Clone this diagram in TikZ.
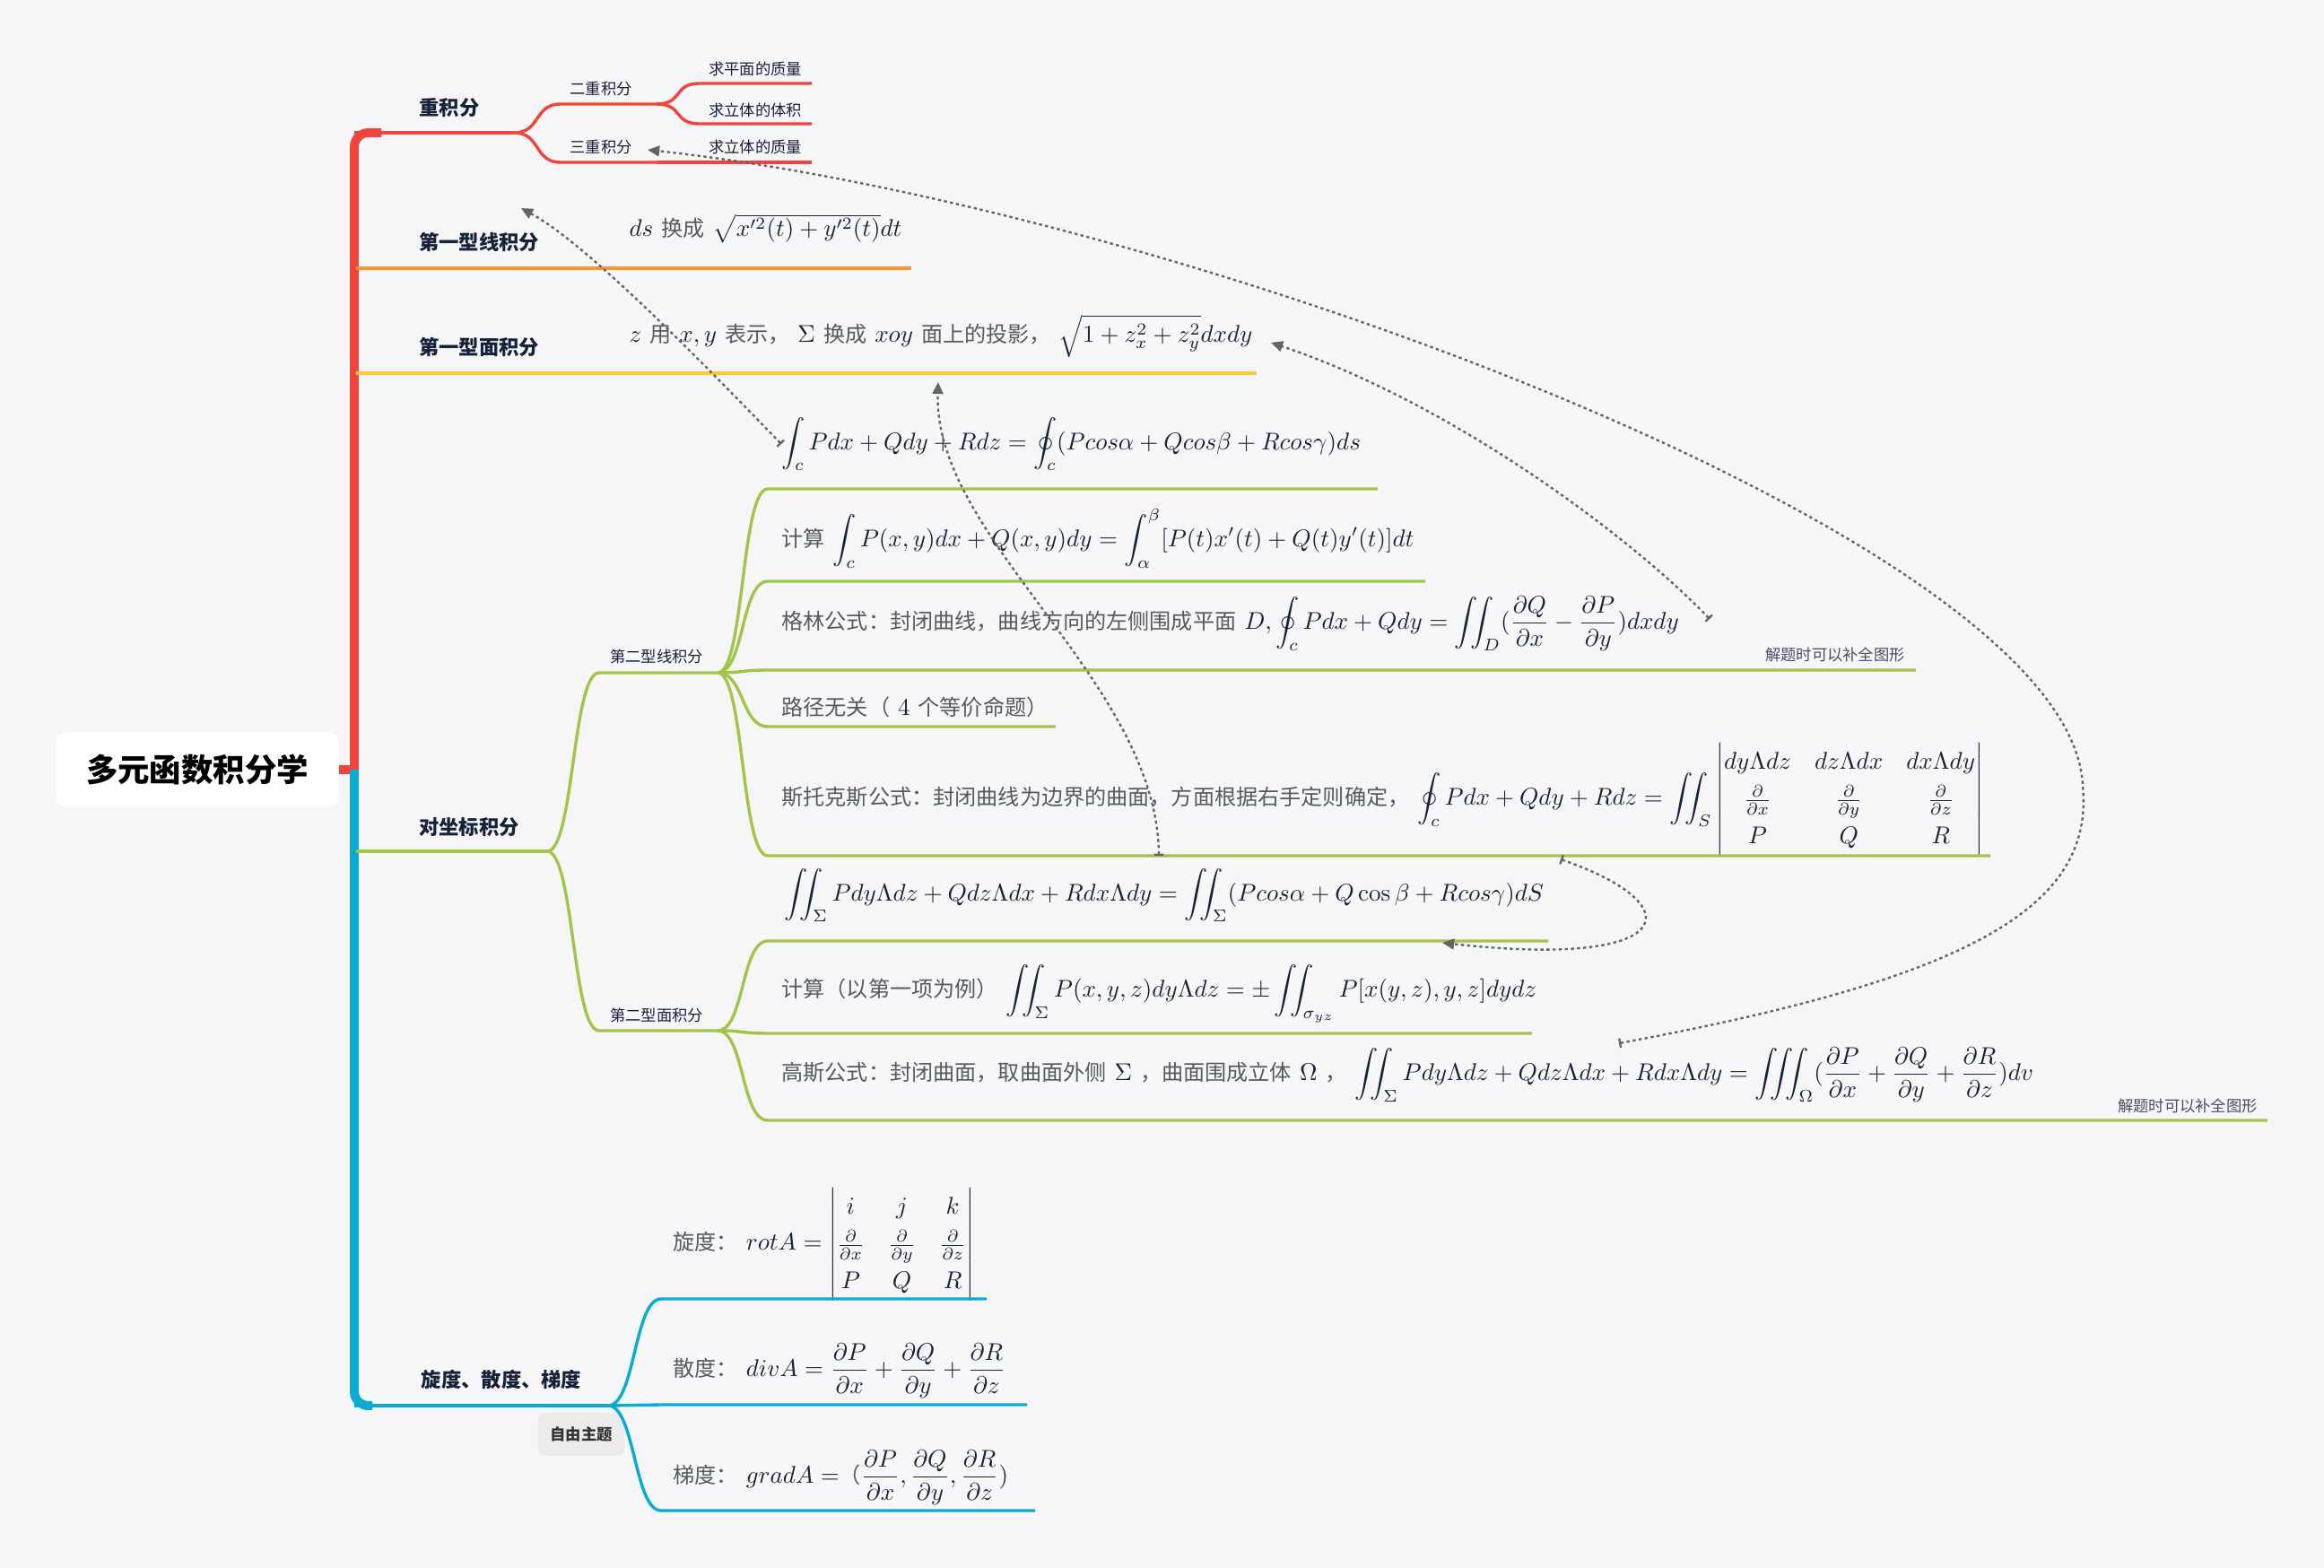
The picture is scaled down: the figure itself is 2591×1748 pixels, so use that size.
\RequirePackage{fix-cm}
\documentclass[tikz,border=0pt]{standalone}
\usepackage{amsmath}
\usepackage{fontspec}
\newfontfamily\cjk{Noto Sans CJK SC}
\usetikzlibrary{arrows.meta}

\definecolor{bgcol}{RGB}{246,246,249}
\definecolor{redb}{RGB}{240,69,58}
\definecolor{orangeb}{RGB}{251,148,45}
\definecolor{yellowb}{RGB}{253,200,58}
\definecolor{greenb}{RGB}{162,196,72}
\definecolor{blueb}{RGB}{8,172,208}
\definecolor{ink}{RGB}{22,34,56}
\definecolor{grayt}{RGB}{84,90,100}
\definecolor{linkcol}{RGB}{100,100,100}

\newcommand\zh[1]{{\cjk\fontsize{9.2}{11}\selectfont\color{grayt}#1}}

\tikzset{
  rootbox/.style={fill=white, rounded corners=4pt, minimum width=4.22cm, minimum height=1.11cm,
    font=\cjk\bfseries\fontsize{13.5}{16}\selectfont, text=black},
  topic/.style={font=\cjk\bfseries\fontsize{8.5}{10}\selectfont, text=ink},
  subtopic/.style={font=\cjk\fontsize{6.6}{8}\selectfont, text=ink},
  freebox/.style={fill=black!8, rounded corners=3pt, minimum width=1.29cm, minimum height=0.64cm,
    font=\cjk\bfseries\fontsize{6.6}{8}\selectfont, text=black!80},
  formula/.style={anchor=west, inner sep=0pt, text=ink, font=\fontsize{10.3}{12.5}\selectfont},
  notetext/.style={font=\cjk\fontsize{6.6}{8}\selectfont, text=ink!80},
  trunk/.style={line width=3.8pt, rounded corners=6pt},
  lvl/.style={line width=1.6pt},
  leaf/.style={line width=1.3pt},
  branch/.style={to path={.. controls +(30,0) and +(-30,0) .. (\tikztotarget)}},
  link/.style={linkcol, line width=0.9pt, dash pattern=on 1.3pt off 1.3pt,
    {Bar[width=4pt]}-{Triangle[length=5pt,width=4.5pt]}},
}

\begin{document}
\begin{tikzpicture}[x=0.0134cm, y=-0.0134cm]
  % background
  \path[use as bounding box, fill=bgcol] (0,0) rectangle (2591,1748);
  % root
  \node[rootbox] (root) at (220,858) {多元函数积分学};
  % trunk
  \coordinate (sp) at (395,858);
  \coordinate (t1s) at (395,148);
  \coordinate (t5s) at (395,1567);
  \draw[redb, line width=3.8pt] (root.east) -- (sp);
  \draw[trunk, redb] (395,862) -- (t1s) -- (425,148);
  \draw[trunk, blueb] (395,858) -- (t5s) -- (415,1567);

  % 重积分
  \coordinate (t1e) at (573,148);
  \coordinate (t11s) at (625,116); \coordinate (t11e) at (732,116);
  \coordinate (t12s) at (625,181); \coordinate (t12e) at (732,181);
  \coordinate (t111s) at (780,93);  \coordinate (t111e) at (905,93);
  \coordinate (t112s) at (780,138); \coordinate (t112e) at (905,138);
  \coordinate (t121e) at (905,181);
  \draw (501,120) node[topic](t1){重积分};
  \draw (670,99) node[subtopic](t11){二重积分};
  \draw (670,164) node[subtopic](t12){三重积分};
  \draw (842,77) node[subtopic](t111){求平面的质量};
  \draw (842,123) node[subtopic](t112){求立体的体积};
  \draw (842,164) node[subtopic](t121){求立体的质量};
  \draw[redb, lvl] (t1s) -- (t1e);
  \draw[redb, leaf] (t1e) to[branch] (t11s) -- (t11e);
  \draw[redb, leaf] (t1e) to[branch] (t12s) -- (t12e);
  \draw[redb, leaf] (t11e) to[branch] (t111s) -- (t111e);
  \draw[redb, leaf] (t11e) to[branch] (t112s) -- (t112e);
  \draw[redb, leaf] (t12e) -- (t121e);

  % 第一型线积分
  \coordinate (t2s) at (397,299); \coordinate (t2e) at (1016,299);
  \draw (534,270) node[topic](t2){第一型线积分};
  \draw (701,255) node[formula](f2){$ds$ \zh{换成} $\sqrt{x'^2(t)+y'^2(t)}dt$};
  \draw[orangeb, lvl] (t2s) -- (t2e);

  % 第一型面积分
  \coordinate (t3s) at (397,416); \coordinate (t3e) at (1401,416);
  \draw (534,387) node[topic](t3){第一型面积分};
  \draw (701,375) node[formula](f3){$z$ \zh{用} $x,y$ \zh{表示，} $\Sigma$ \zh{换成} $xoy$ \zh{面上的投影，}\ $\sqrt{1+z_x^2+z_y^2}dxdy$};
  \draw[yellowb, lvl] (t3s) -- (t3e);

  % 对坐标积分
  \coordinate (t4s) at (397,949); \coordinate (t4e) at (610,949);
  \coordinate (t41s) at (668,750); \coordinate (t41e) at (800,750);
  \coordinate (t42s) at (668,1149); \coordinate (t42e) at (800,1149);
  \draw (523,922) node[topic](t4){对坐标积分};
  \draw (732,732) node[subtopic](t41){第二型线积分};
  \draw (732,1132) node[subtopic](t42){第二型面积分};
  \draw[greenb, lvl] (t4s) -- (t4e);
  \draw[greenb, leaf] (t4e) to[branch] (t41s) -- (t41e);
  \draw[greenb, leaf] (t4e) to[branch] (t42s) -- (t42e);
  % 第二型线积分
  \draw (871,495) node[formula](fa){$\displaystyle\int_c Pdx+Qdy+Rdz=\oint_c(Pcos\alpha+Qcos\beta+Rcos\gamma)ds$};
  \draw (871,600) node[formula](fb){\zh{计算} $\displaystyle\int_c P(x,y)dx+Q(x,y)dy=\int_\alpha^\beta[P(t)x'(t)+Q(t)y'(t)]dt$};
  \draw (871,695) node[formula](fc){\zh{格林公式：封闭曲线，曲线方向的左侧围成平面} $\displaystyle D,\oint_c Pdx+Qdy=\iint_D(\frac{\partial Q}{\partial x}-\frac{\partial P}{\partial y})dxdy$};
  \draw (2046,730) node[notetext](nc){解题时可以补全图形};
  \draw (871,788) node[formula](fd){\zh{路径无关（} $4$ \zh{个等价命题）}};
  \draw (871,891) node[formula](fe){\zh{斯托克斯公式：封闭曲线为边界的曲面，方面根据右手定则确定，}\ $\displaystyle\oint_c Pdx+Qdy+Rdz=\iint_S\def\arraystretch{1.25}\begin{vmatrix}dy\Lambda dz & dz\Lambda dx & dx\Lambda dy\\ \frac{\partial}{\partial x} & \frac{\partial}{\partial y} & \frac{\partial}{\partial z}\\ P & Q & R\end{vmatrix}$};
  \coordinate (ae) at (1536,545); \coordinate (as) at (856,545);
  \coordinate (be) at (1589,648); \coordinate (bs) at (856,648);
  \coordinate (ce) at (2136,747); \coordinate (cs) at (856,747);
  \coordinate (de) at (1177,810); \coordinate (ds) at (856,810);
  \coordinate (ee) at (2219,954); \coordinate (es) at (856,954);
  \foreach \k in {a,b,c,d,e}
    \draw[greenb, leaf] (t41e) to[branch] (\k s) -- (\k e);
  % 第二型面积分
  \draw (874,998) node[formula](ff){$\displaystyle\iint_\Sigma Pdy\Lambda dz+Qdz\Lambda dx+Rdx\Lambda dy=\iint_\Sigma(Pcos\alpha+Q\cos\beta+Rcos\gamma)dS$};
  \draw (871,1108) node[formula](fg){\zh{计算（以第一项为例）} $\displaystyle\iint_\Sigma P(x,y,z)dy\Lambda dz=\pm\iint_{\sigma_{yz}}P[x(y,z),y,z]dydz$};
  \draw (871,1198) node[formula](fh){\zh{高斯公式：封闭曲面，取曲面外侧} $\Sigma$ \zh{，曲面围成立体} $\Omega$ \zh{，}\ $\displaystyle\iint_\Sigma Pdy\Lambda dz+Qdz\Lambda dx+Rdx\Lambda dy=\iiint_\Omega(\frac{\partial P}{\partial x}+\frac{\partial Q}{\partial y}+\frac{\partial R}{\partial z})dv$};
  \draw (2439,1233) node[notetext](nh){解题时可以补全图形};
  \coordinate (fe') at (1726,1049); \coordinate (fs) at (856,1049);
  \coordinate (ge) at (1708,1152); \coordinate (gs) at (856,1152);
  \coordinate (he) at (2528,1249); \coordinate (hs) at (856,1249);
  \draw[greenb, leaf] (t42e) to[branch] (fs) -- (fe');
  \draw[greenb, leaf] (t42e) to[branch] (gs) -- (ge);
  \draw[greenb, leaf] (t42e) to[branch] (hs) -- (he);

  % 旋度、散度、梯度
  \coordinate (t5e) at (678,1567);
  \coordinate (t51s) at (737,1448); \coordinate (t51e) at (1100,1448);
  \coordinate (t52s) at (737,1566); \coordinate (t52e) at (1145,1566);
  \coordinate (t53s) at (737,1684); \coordinate (t53e) at (1154,1684);
  \draw (559,1538) node[topic](t5){旋度、散度、梯度};
  \draw (750,1387) node[formula](f51){\zh{旋度：}\ $rotA=\def\arraystretch{1.25}\begin{vmatrix}i & j & k\\ \frac{\partial}{\partial x} & \frac{\partial}{\partial y} & \frac{\partial}{\partial z}\\ P & Q & R\end{vmatrix}$};
  \draw (750,1528) node[formula](f52){\zh{散度：}\ $\displaystyle divA=\frac{\partial P}{\partial x}+\frac{\partial Q}{\partial y}+\frac{\partial R}{\partial z}$};
  \draw (750,1647) node[formula](f53){\zh{梯度：}\ $\displaystyle gradA=$\zh{（}$\displaystyle\frac{\partial P}{\partial x},\frac{\partial Q}{\partial y},\frac{\partial R}{\partial z})$};
  \draw (648,1599) node[freebox](free){自由主题};
  \draw[blueb, lvl] (t5s) -- (t5e);
  \draw[blueb, leaf] (t5e) to[branch] (t51s) -- (t51e);
  \draw[blueb, leaf] (t5e) -- (t52s) -- (t52e);
  \draw[blueb, leaf] (t5e) to[branch] (t53s) -- (t53e);

  % relations
  \coordinate (l1b) at (581,232);
  \coordinate (l2a) at (1292,954);  \coordinate (l2b) at (1046,426);
  \coordinate (l3a) at (1805,1163); \coordinate (l3b) at (722,167);
  \coordinate (l4a) at (1906,690);  \coordinate (l4b) at (1417,382);
  \coordinate (l5a) at (1740,958);  \coordinate (l5b) at (1608,1051);
  \draw[link] (fa.west) .. controls (760,380) and (650,270) .. (l1b);
  \draw[link] (l2a) .. controls (1290,760) and (1040,600) .. (l2b);
  \draw[link] (l3a) .. controls (2200,1090) and (2335,1010) .. (2322,876) .. controls (2310,600) and (1300,230) .. (l3b);
  \draw[link] (l4a) .. controls (1820,600) and (1620,450) .. (l4b);
  \draw[link] (l5a) .. controls (1890,1010) and (1870,1080) .. (l5b);
\end{tikzpicture}
\end{document}
